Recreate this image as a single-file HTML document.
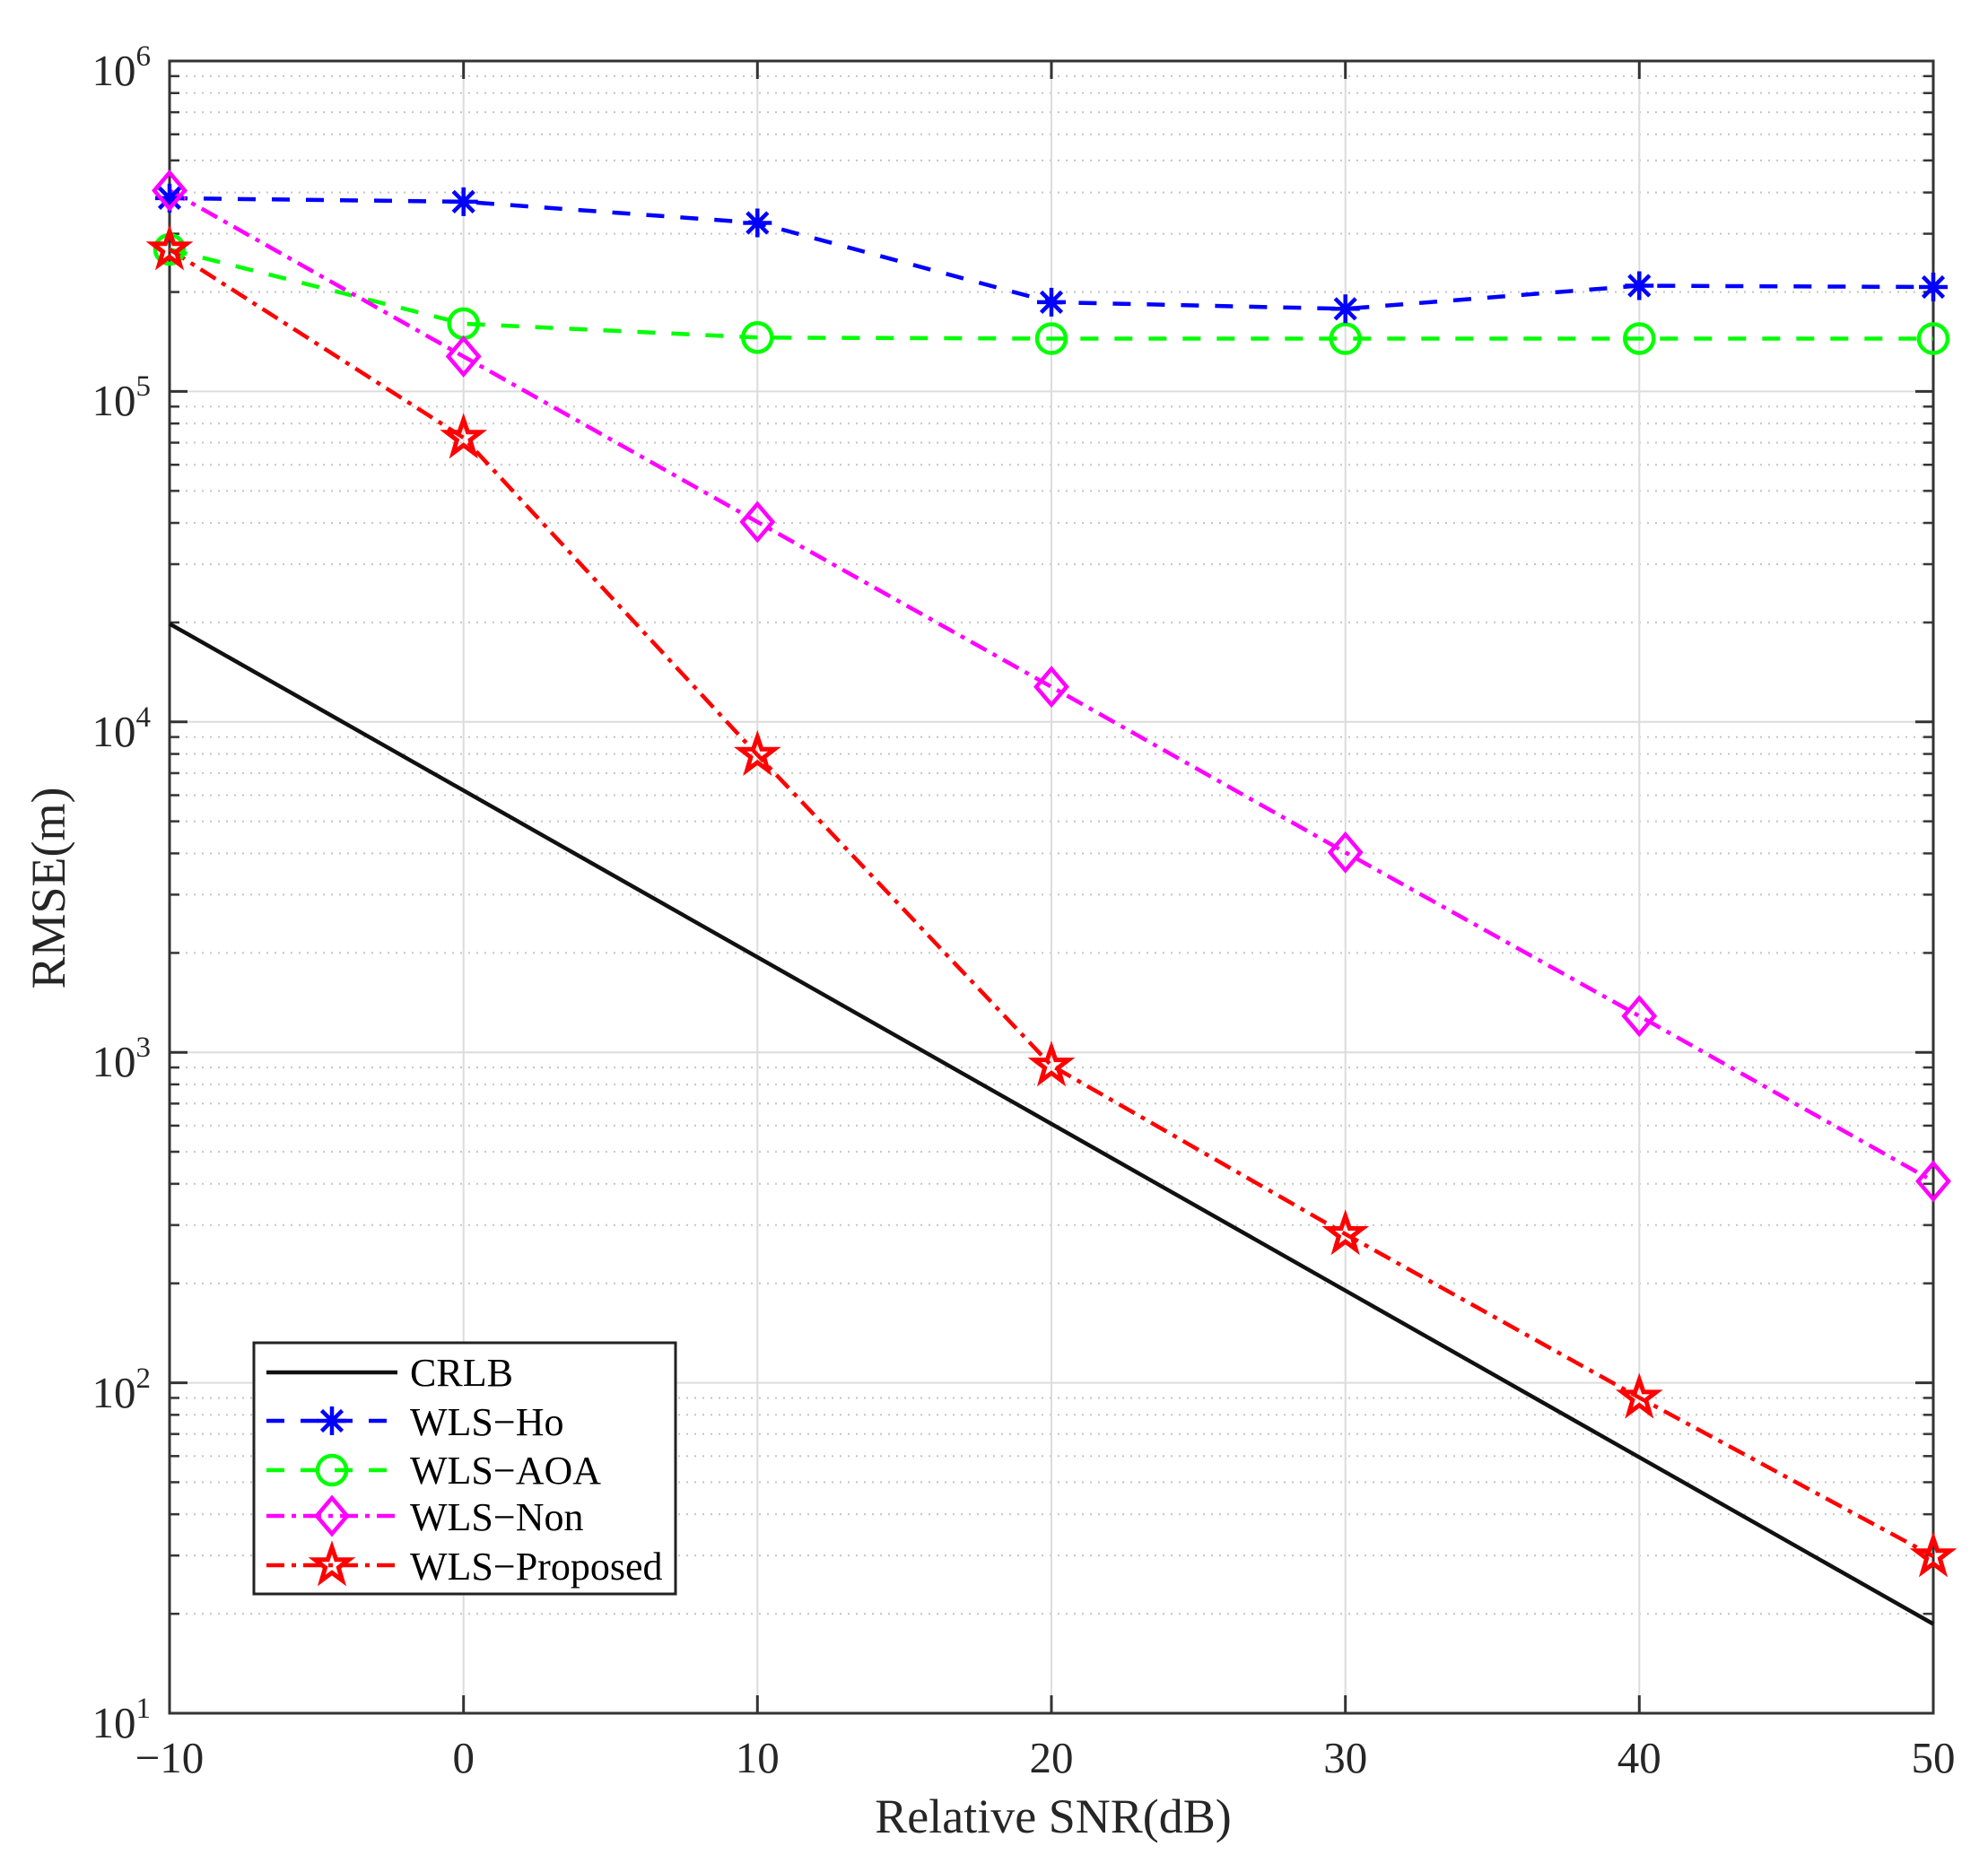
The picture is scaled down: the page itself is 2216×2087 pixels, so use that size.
<!DOCTYPE html>
<html><head><meta charset="utf-8"><style>
html,body{margin:0;padding:0;background:#fff;}
svg{display:block;}
text{font-family:"Liberation Serif",serif;fill:#262626;}
</style></head><body>
<svg width="2216" height="2087" viewBox="0 0 2216 2087" xmlns="http://www.w3.org/2000/svg">
<defs>
<pattern id="minor" patternUnits="userSpaceOnUse" x="189" y="68" width="1966" height="368.4">
<g stroke="#c4c4c4" stroke-width="2" stroke-dasharray="2 7">
<line x1="0" x2="1966" y1="16.9" y2="16.9"/><line x1="0" x2="1966" y1="35.7" y2="35.7"/>
<line x1="0" x2="1966" y1="57.1" y2="57.1"/><line x1="0" x2="1966" y1="81.7" y2="81.7"/>
<line x1="0" x2="1966" y1="110.9" y2="110.9"/><line x1="0" x2="1966" y1="146.6" y2="146.6"/>
<line x1="0" x2="1966" y1="192.6" y2="192.6"/><line x1="0" x2="1966" y1="257.5" y2="257.5"/>
</g>
<g stroke="#333" stroke-width="2.5">
<path d="M0 16.9h11M0 35.7h11M0 57.1h11M0 81.7h11M0 110.9h11M0 146.6h11M0 192.6h11M0 257.5h11"/>
<path d="M1955 16.9h11M1955 35.7h11M1955 57.1h11M1955 81.7h11M1955 110.9h11M1955 146.6h11M1955 192.6h11M1955 257.5h11"/>
</g>
</pattern>
<g id="star"><polygon points="0,-20 4.7,-6.3 19,-6.3 7.4,2.6 11.6,17 0,8.4 -11.6,17 -7.4,2.6 -19,-6.3 -4.7,-6.3" fill="none" stroke="#f00" stroke-width="5"/></g>
<g id="circ"><circle r="16" fill="none" stroke="#0f0" stroke-width="4.5"/></g>
<g id="diam"><polygon points="0,-20 17,0 0,20 -17,0" fill="none" stroke="#f0f" stroke-width="4.5"/></g>
<g id="ast" stroke="#00f" stroke-width="4.5"><path d="M-16 0H16M0 -16V16M-11.5 -11.5L11.5 11.5M-11.5 11.5L11.5 -11.5"/></g>
</defs>
<rect x="189" y="68" width="1966" height="1842" fill="url(#minor)"/>
<g stroke="#dcdcdc" stroke-width="2">
<path d="M516.7 68V1910M844.3 68V1910M1172 68V1910M1499.7 68V1910M1827.3 68V1910"/>
<path d="M189 436.4H2155M189 804.8H2155M189 1173.2H2155M189 1541.6H2155"/>
</g>
<g stroke="#333" stroke-width="3">
<path d="M189 436.4h20M189 804.8h20M189 1173.2h20M189 1541.6h20M2155 436.4h-20M2155 804.8h-20M2155 1173.2h-20M2155 1541.6h-20"/>
<path d="M516.7 1910v-20M844.3 1910v-20M1172 1910v-20M1499.7 1910v-20M1827.3 1910v-20M516.7 68v20M844.3 68v20M1172 68v20M1499.7 68v20M1827.3 68v20"/>
<rect x="189" y="68" width="1966" height="1842" fill="none"/>
</g>
<line x1="189" y1="695.4" x2="2155" y2="1810.5" stroke="#111" stroke-width="4.5"/>
<polyline fill="none" stroke="#00f" stroke-width="4.5" stroke-dasharray="20 18" points="189,220.9 516.7,224.9 844.3,248.5 1172,336.9 1499.7,344.3 1827.3,318.5 2155,320"/>
<polyline fill="none" stroke="#0f0" stroke-width="4.5" stroke-dasharray="20 18" points="189,278 516.7,360.9 844.3,376.3 1172,377.5 1499.7,377.5 1827.3,377.5 2155,377.5"/>
<polyline fill="none" stroke="#f0f" stroke-width="4.5" stroke-dasharray="20 8 5 8" points="189,212.4 516.7,397.4 844.3,581.9 1172,765.7 1499.7,950.3 1827.3,1132.7 2155,1316.9"/>
<polyline fill="none" stroke="#f00" stroke-width="4.5" stroke-dasharray="20 8 5 8" points="189,278 516.7,488 844.3,841.6 1172,1187.9 1499.7,1375.8 1827.3,1558.2 2155,1735"/>
<g>
<use href="#circ" x="189" y="278"/><use href="#circ" x="516.7" y="360.9"/><use href="#circ" x="844.3" y="376.3"/><use href="#circ" x="1172" y="377.5"/><use href="#circ" x="1499.7" y="377.5"/><use href="#circ" x="1827.3" y="377.5"/><use href="#circ" x="2155" y="377.5"/>
<use href="#ast" x="189" y="220.9"/><use href="#ast" x="516.7" y="224.9"/><use href="#ast" x="844.3" y="248.5"/><use href="#ast" x="1172" y="336.9"/><use href="#ast" x="1499.7" y="344.3"/><use href="#ast" x="1827.3" y="318.5"/><use href="#ast" x="2155" y="320"/>
<use href="#diam" x="189" y="212.4"/><use href="#diam" x="516.7" y="397.4"/><use href="#diam" x="844.3" y="581.9"/><use href="#diam" x="1172" y="765.7"/><use href="#diam" x="1499.7" y="950.3"/><use href="#diam" x="1827.3" y="1132.7"/><use href="#diam" x="2155" y="1316.9"/>
<use href="#star" x="189" y="278"/><use href="#star" x="516.7" y="488"/><use href="#star" x="844.3" y="841.6"/><use href="#star" x="1172" y="1187.9"/><use href="#star" x="1499.7" y="1375.8"/><use href="#star" x="1827.3" y="1558.2"/><use href="#star" x="2155" y="1735"/>
</g>
<g font-size="49" text-anchor="end">
<text x="168" y="95">10<tspan font-size="33" dy="-22">6</tspan></text>
<text x="168" y="463">10<tspan font-size="33" dy="-22">5</tspan></text>
<text x="168" y="832">10<tspan font-size="33" dy="-22">4</tspan></text>
<text x="168" y="1200">10<tspan font-size="33" dy="-22">3</tspan></text>
<text x="168" y="1569">10<tspan font-size="33" dy="-22">2</tspan></text>
<text x="168" y="1937">10<tspan font-size="33" dy="-22">1</tspan></text>
</g>
<g font-size="49" text-anchor="middle">
<text x="189" y="1976">−10</text>
<text x="516.7" y="1976">0</text>
<text x="844.3" y="1976">10</text>
<text x="1172" y="1976">20</text>
<text x="1499.7" y="1976">30</text>
<text x="1827.3" y="1976">40</text>
<text x="2155" y="1976">50</text>
</g>
<g font-size="54" text-anchor="middle">
<text x="1174" y="2043">Relative SNR(dB)</text>
<text transform="translate(72,990) rotate(-90)">RMSE(m)</text>
</g>
<rect x="283" y="1497" width="470" height="280" fill="#fff" stroke="#222" stroke-width="3"/>
<line x1="297" y1="1530" x2="443" y2="1530" stroke="#111" stroke-width="4.5"/>
<line x1="297" y1="1584" x2="443" y2="1584" stroke="#00f" stroke-width="4.5" stroke-dasharray="20 18"/>
<line x1="297" y1="1639" x2="443" y2="1639" stroke="#0f0" stroke-width="4.5" stroke-dasharray="20 18"/>
<line x1="297" y1="1690" x2="443" y2="1690" stroke="#f0f" stroke-width="4.5" stroke-dasharray="20 8 5 8"/>
<line x1="297" y1="1745" x2="443" y2="1745" stroke="#f00" stroke-width="4.5" stroke-dasharray="20 8 5 8"/>
<use href="#ast" x="370" y="1584"/><use href="#circ" x="370" y="1639"/><use href="#diam" x="370" y="1690"/><use href="#star" x="370" y="1745"/>
<g font-size="44">
<text x="457" y="1545" style="fill:#000">CRLB</text>
<text x="457" y="1600" style="fill:#000">WLS−Ho</text>
<text x="457" y="1654" style="fill:#000">WLS−AOA</text>
<text x="457" y="1706" style="fill:#000">WLS−Non</text>
<text x="457" y="1761" style="fill:#000">WLS−Proposed</text>
</g>
</svg>
</body></html>
